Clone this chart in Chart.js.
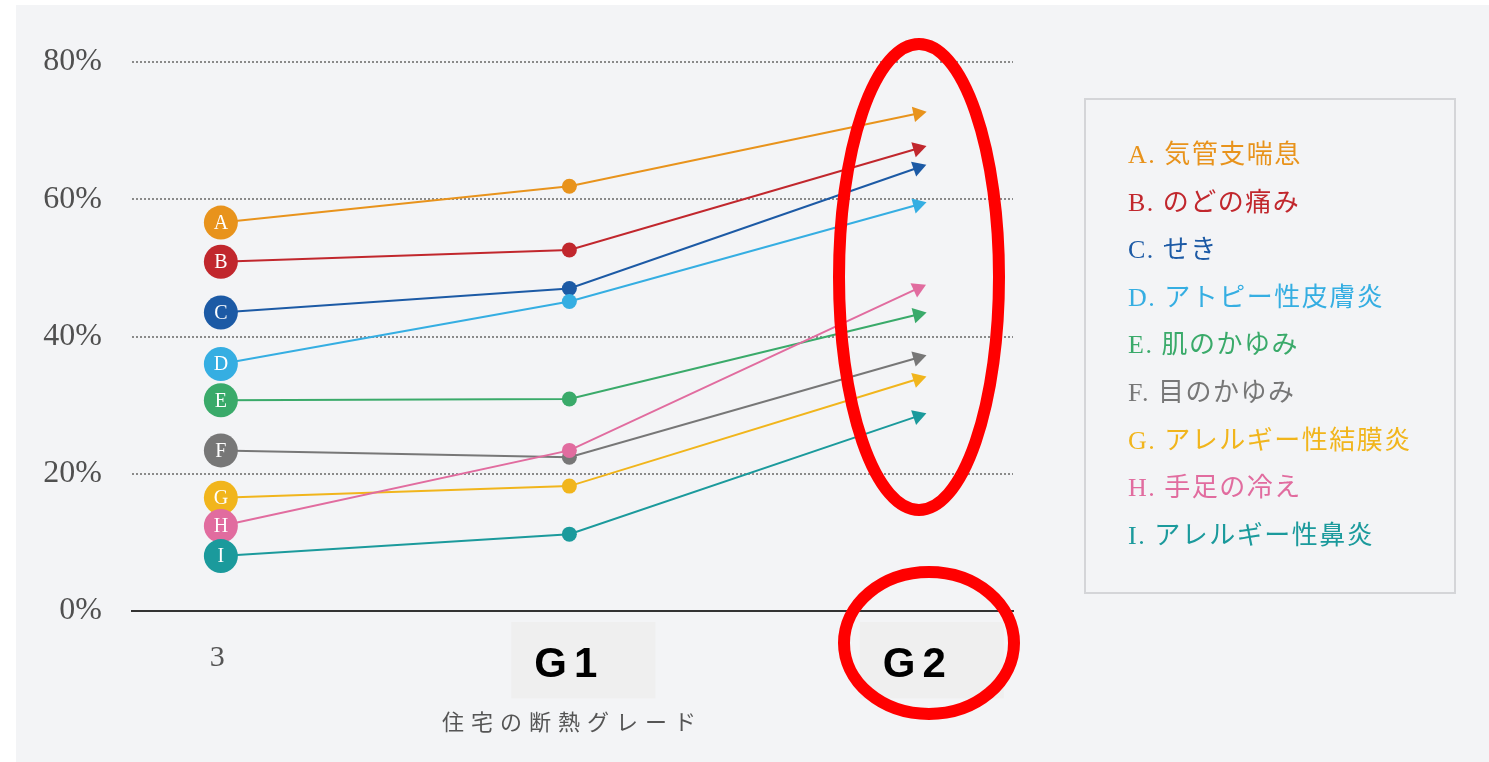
<!DOCTYPE html>
<html lang="ja">
<head>
<meta charset="utf-8">
<title>住宅の断熱グレード</title>
<script src="https://cdn.jsdelivr.net/npm/chart.js@4.4.1/dist/chart.umd.min.js"></script>
<style>
  html, body { margin: 0; padding: 0; background: #ffffff; }
  body { width: 1489px; height: 762px; position: relative; overflow: hidden; }
  #panel { position: absolute; left: 16px; top: 5px; width: 1473px; height: 757px; background: #f3f4f6; }
  #wrap { position: absolute; left: 0; top: 0; width: 1489px; height: 762px; }
  #legend {
    position: absolute; left: 1084px; top: 98px; width: 372px; height: 496px;
    box-sizing: border-box; border: 2px solid #d4d5d8;
    padding: 31px 0 0 42px;
    font-family: "Liberation Serif", "Noto Sans CJK JP", serif;
    font-size: 26px; line-height: 47.6px; letter-spacing: 1.5px;
  }
  #legend div { white-space: nowrap; }
</style>
</head>
<body>
<div id="panel"></div>
<div id="wrap"><canvas id="chart" width="1489" height="762"></canvas></div>
<div id="legend"></div>

<script>
// カテゴリ(断熱グレード)
const grades = ['3', 'G1', 'G2'];
const xTitle = '住宅の断熱グレード';

// 症状
const letters = ['A', 'B', 'C', 'D', 'E', 'F', 'G', 'H', 'I'];
const symptoms = ['気管支喘息', 'のどの痛み', 'せき', 'アトピー性皮膚炎', '肌のかゆみ',
                  '目のかゆみ', 'アレルギー性結膜炎', '手足の冷え', 'アレルギー性鼻炎'];
const colors = ['#e8931c', '#c1272d', '#1c5aa5', '#35aee2', '#3aaa6a',
                '#777777', '#f1b51c', '#e16c9f', '#1b9a9c'];

// 改善率(%) 3 → G1 → G2
const valuesA = [56.6, 61.9, 72.5];
const valuesB = [50.9, 52.6, 67.4];
const valuesC = [43.5, 47.0, 64.6];
const valuesD = [36.0, 45.1, 59.2];
const valuesE = [30.7, 30.9, 43.2];
const valuesF = [23.4, 22.4, 36.9];
const valuesG = [16.5, 18.2, 33.8];
const valuesH = [12.4, 23.4, 47.0];
const valuesI = [8.0, 11.2, 28.4];
const allValues = [valuesA, valuesB, valuesC, valuesD, valuesE, valuesF, valuesG, valuesH, valuesI];

const yTicks = [0, 20, 40, 60, 80];

// 凡例(HTML)
const legendEl = document.getElementById('legend');
letters.forEach(function(l, i) {
    const row = document.createElement('div');
    row.textContent = l + '. ' + symptoms[i];
    row.style.color = colors[i];
    legendEl.appendChild(row);
});

// 矢印の向き: 直前の点からの傾き
function arrowRotation(ctx) {
    if (ctx.type !== 'data' || ctx.dataIndex !== 2) return 0;
    const chart = ctx.chart;
    const xs = chart.scales.x, ys = chart.scales.y;
    const data = chart.data.datasets[ctx.datasetIndex].data;
    const dx = xs.getPixelForValue(data[2].x) - xs.getPixelForValue(data[1].x);
    const dy = ys.getPixelForValue(data[2].y) - ys.getPixelForValue(data[1].y);
    return Math.atan2(dy, dx) * 180 / Math.PI + 90;
}

const datasets = allValues.map(function(vals, i) {
    return {
        label: letters[i] + '. ' + symptoms[i],
        data: vals.map((v, k) => ({ x: k, y: v })),
        borderColor: colors[i],
        backgroundColor: colors[i],
        borderWidth: 2,
        tension: 0,
        order: letters.length - i,
        pointStyle: ctx => ctx.dataIndex === 2 ? 'triangle' : 'circle',
        pointRadius: ctx => [17, 7.5, 9][ctx.dataIndex],
        pointHoverRadius: ctx => [17, 7.5, 9][ctx.dataIndex],
        pointBorderWidth: 0,
        pointRotation: arrowRotation,
        clip: false
    };
});

// 先頭の丸に記号を書く
const letterPlugin = {
    id: 'letters',
    afterDatasetDraw(chart, args) {
        const pt = args.meta.data[0];
        if (!pt) return;
        const c = chart.ctx;
        c.save();
        c.fillStyle = '#ffffff';
        c.font = '20px "Liberation Serif", serif';
        c.textAlign = 'center';
        c.textBaseline = 'middle';
        c.fillText(letters[args.index], pt.x, pt.y + 1);
        c.restore();
    }
};

// x軸の文字は字間を広げる (x軸のレイヤーはデータの後に描かれる)
const spacingPlugin = {
    id: 'spacing',
    afterDatasetsDraw(chart) { chart.ctx.letterSpacing = '7px'; },
    afterDraw(chart) { chart.ctx.letterSpacing = '0px'; }
};

// 赤い丸囲み
const markPlugin = {
    id: 'marks',
    afterDraw(chart) {
        const c = chart.ctx;
        c.save();
        c.strokeStyle = '#ff0000';
        c.lineWidth = 12;
        c.beginPath();
        c.ellipse(919, 277, 80, 233, 0, 0, Math.PI * 2);
        c.stroke();
        c.beginPath();
        c.ellipse(929, 643, 85, 71, 0, 0, Math.PI * 2);
        c.stroke();
        c.restore();
    }
};

new Chart(document.getElementById('chart'), {
    type: 'line',
    data: { datasets: datasets },
    plugins: [letterPlugin, spacingPlugin, markPlugin],
    options: {
        responsive: false,
        animation: false,
        layout: { padding: { top: 62, right: 476, bottom: 0, left: 0 } },
        plugins: {
            legend: { display: false },
            tooltip: { enabled: false }
        },
        scales: {
            x: {
                type: 'linear',
                min: -0.255,
                max: 2.273,
                afterBuildTicks: scale => { scale.ticks = grades.map((g, k) => ({ value: k })); },
                afterFit: scale => { scale.height = 151; },
                grid: { display: false, z: 1 },
                border: { display: true, color: '#333333', width: 2, z: 1 },
                ticks: {
                    z: 1,
                    padding: 21,
                    autoSkip: false,
                    maxRotation: 0,
                    callback: (v, k) => grades[k],
                    color: ctx => ctx.index === 0 ? '#555555' : '#000000',
                    font: ctx => ctx.index === 0
                        ? { family: '"Liberation Serif", serif', size: 30 }
                        : { family: '"Liberation Sans", Arial, sans-serif', size: 42, weight: 'bold' },
                    showLabelBackdrop: ctx => ctx.index !== 0,
                    backdropColor: '#efefef',
                    backdropPadding: { top: 18, bottom: 8, left: 30, right: 58 }
                },
                title: {
                    display: true,
                    text: xTitle,
                    color: '#555555',
                    font: { family: '"Noto Sans CJK JP", sans-serif', size: 22 },
                    padding: { top: 0, bottom: 27 }
                }
            },
            y: {
                min: 0,
                max: 80,
                afterBuildTicks: scale => { scale.ticks = yTicks.map(v => ({ value: v })); },
                afterFit: scale => { scale.width = 132; },
                border: { display: false, dash: [2, 2] },
                grid: {
                    drawTicks: false,
                    lineWidth: 2,
                    color: ctx => ctx.tick && ctx.tick.value === 0 ? 'rgba(0,0,0,0)' : '#8a8a8a'
                },
                ticks: {
                    padding: 30,
                    color: '#505050',
                    font: { family: '"Liberation Serif", serif', size: 32 },
                    callback: v => v + '%'
                }
            }
        }
    }
});
</script>
</body>
</html>
